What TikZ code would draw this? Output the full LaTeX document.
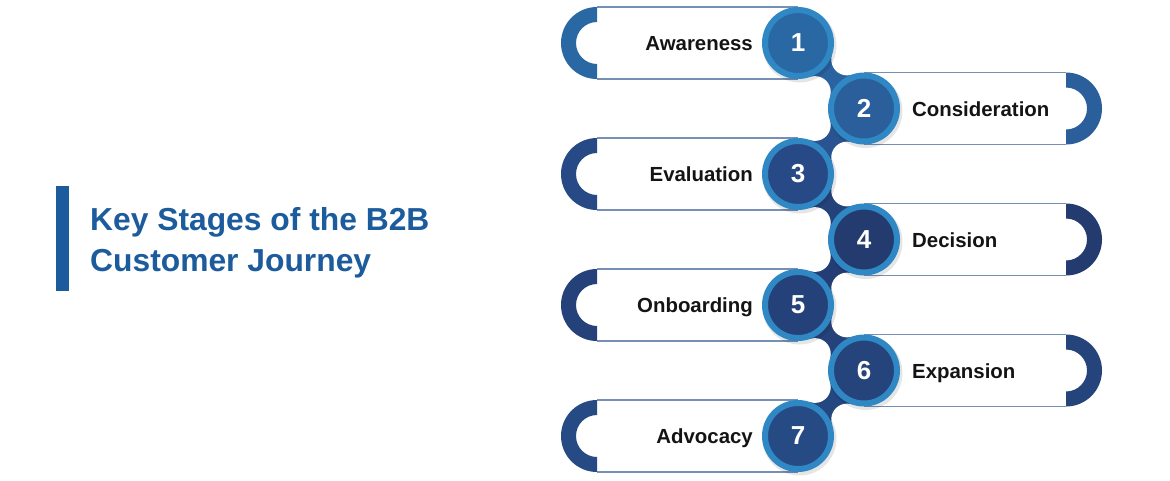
\documentclass[tikz,border=0pt]{standalone}
\usepackage{fontspec}
\setmainfont{Liberation Sans}
\usetikzlibrary{calc}
\definecolor{c1}{HTML}{2A68A4}
\definecolor{c2}{HTML}{2A5F9B}
\definecolor{c3}{HTML}{274A86}
\definecolor{c4}{HTML}{243B70}
\definecolor{c5}{HTML}{25417A}
\definecolor{c6}{HTML}{25447B}
\definecolor{c7}{HTML}{264B84}
\definecolor{ring}{HTML}{2F88C4}
\definecolor{bandline}{HTML}{7690B5}
\definecolor{titleblue}{HTML}{1D5C9C}
\begin{document}
\begin{tikzpicture}[x=1pt,y=-1pt,
  stagenum/.style={circle,minimum size=66pt,inner sep=0pt,line width=6pt,draw=ring,text=white,font=\bfseries\fontsize{26}{26}\selectfont},
  stagelabel/.style={inner sep=0pt,text=black!92,font=\bfseries\fontsize{20.4}{21}\selectfont},
  titletext/.style={inner sep=0pt,text=titleblue,anchor=base west,font=\bfseries\fontsize{31.8}{32}\selectfont},
  bandedge/.style={draw=bandline,line width=1.2pt}
]
\useasboundingbox[fill=white] (0,0) rectangle (1170,480);

% title
\fill[titleblue] (56,186) rectangle (69,291);
\node[titletext] (t1) at (90,230) {Key Stages of the B2B};
\node[titletext] (t2) at (90,271) {Customer Journey};

% centres
\coordinate (p1) at (798,43);
\coordinate (p2) at (864,108.5);
\coordinate (p3) at (798,174);
\coordinate (p4) at (864,239.5);
\coordinate (p5) at (798,305);
\coordinate (p6) at (864,370.5);
\coordinate (p7) at (798,436);

% left bands
\foreach \i/\y in {1/43,3/174,5/305,7/436}{
  \draw[bandedge] (597,\y-36) -- (798,\y-36) (597,\y+36) -- (798,\y+36);
  \fill[c\i] (597,\y-36) arc[start angle=270,end angle=90,radius=36]
     -- (597,\y+21) arc[start angle=90,end angle=270,radius=21] -- cycle;
}
% right bands
\foreach \i/\y in {2/108.5,4/239.5,6/370.5}{
  \draw[bandedge] (864,\y-36) -- (1066,\y-36) (864,\y+36) -- (1066,\y+36);
  \fill[c\i] (1066,\y-36) arc[start angle=270,end angle=450,radius=36]
     -- (1066,\y+21) arc[start angle=90,end angle=-90,radius=21] -- cycle;
}

% links
\foreach \i in {1,...,6}{
  \pgfmathtruncatemacro{\j}{\i+1}
  \coordinate (m\i) at ($(p\i)!0.5!(p\j)$);
  \coordinate (ka\i) at ($(m\i)!0.49!90:(p\j)$);
  \coordinate (kb\i) at ($(m\i)!0.49!-90:(p\j)$);
  \fill[c\i!50!c\j] (p\i) -- (ka\i) -- (p\j) -- (kb\i) -- cycle;
  \fill[white] (ka\i) circle[radius=15.8];
  \fill[white] (kb\i) circle[radius=15.8];
}

% shadows
\foreach \i in {1,...,7}{
  \fill[black,opacity=0.10] ($(p\i)+(1.5,2.5)$) circle[radius=37];
}

% circles
\foreach \i in {1,...,7}{
  \node[stagenum,fill=c\i] (n\i) at (p\i) {\i};
}

% labels
\node[stagelabel,anchor=base east] (l1) at (753,50.5) {Awareness};
\node[stagelabel,anchor=base west] (l2) at (912,116) {Consideration};
\node[stagelabel,anchor=base east] (l3) at (753,181.5) {Evaluation};
\node[stagelabel,anchor=base west] (l4) at (912,247) {Decision};
\node[stagelabel,anchor=base east] (l5) at (753,312.5) {Onboarding};
\node[stagelabel,anchor=base west] (l6) at (912,378) {Expansion};
\node[stagelabel,anchor=base east] (l7) at (753,443.5) {Advocacy};
\end{tikzpicture}
\end{document}
